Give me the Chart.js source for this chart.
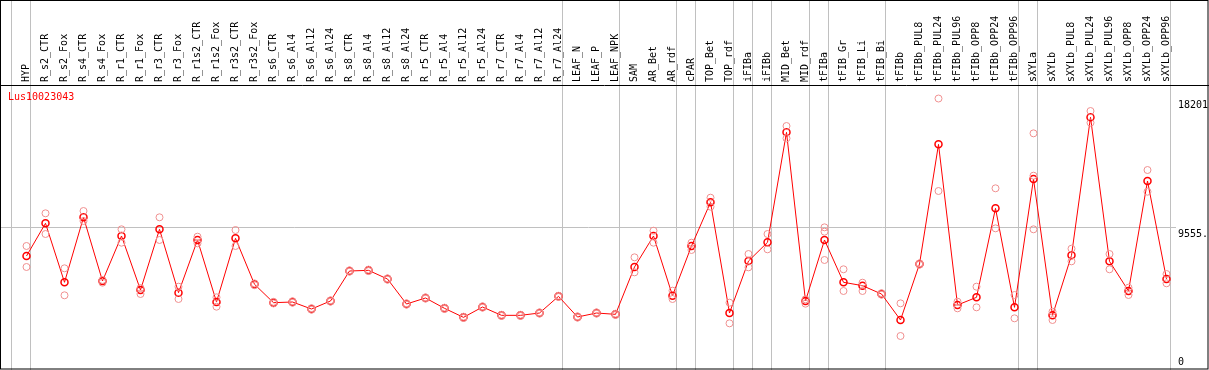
<!DOCTYPE html>
<html>
<head>
<meta charset="utf-8">
<title>Lus10023043</title>
<script src="https://cdn.jsdelivr.net/npm/chart.js@4/dist/chart.umd.min.js"></script>
<style>
  html, body { margin: 0; padding: 0; background: #fff; }
  #wrap { width: 1209px; height: 370px; }
</style>
</head>
<body>
<div id="wrap"><canvas id="myChart" width="1209" height="370"></canvas></div>
<script>
"use strict";

const title = "Lus10023043";

const categories = [
  "HYP", "R_s2_CTR", "R_s2_Fox", "R_s4_CTR", "R_s4_Fox", "R_r1_CTR", "R_r1_Fox",
  "R_r3_CTR", "R_r3_Fox", "R_r1s2_CTR", "R_r1s2_Fox", "R_r3s2_CTR", "R_r3s2_Fox",
  "R_s6_CTR", "R_s6_Al4", "R_s6_Al12", "R_s6_Al24", "R_s8_CTR", "R_s8_Al4",
  "R_s8_Al12", "R_s8_Al24", "R_r5_CTR", "R_r5_Al4", "R_r5_Al12", "R_r5_Al24",
  "R_r7_CTR", "R_r7_Al4", "R_r7_Al12", "R_r7_Al24", "LEAF_N", "LEAF_P", "LEAF_NPK",
  "SAM", "AR_Bet", "AR_rdf", "cPAR", "TOP_Bet", "TOP_rdf", "iFIBa", "iFIBb",
  "MID_Bet", "MID_rdf", "tFIBa", "tFIB_Gr", "tFIB_Li", "tFIB_Bi", "tFIBb",
  "tFIBb_PUL8", "tFIBb_PUL24", "tFIBb_PUL96", "tFIBb_OPP8", "tFIBb_OPP24",
  "tFIBb_OPP96", "sXYLa", "sXYLb", "sXYLb_PUL8", "sXYLb_PUL24", "sXYLb_PUL96",
  "sXYLb_OPP8", "sXYLb_OPP24", "sXYLb_OPP96"
];

// mean expression per sample
const meanValues = [
  7604, 9804, 5834, 10208, 5921, 8950, 5316, 9400, 5136, 8681, 4508, 8793, 5699,
  4463, 4508, 4037, 4576, 6594, 6639, 6056, 4374, 4778, 4082, 3476, 4172,
  3611, 3611, 3768, 4889, 3499, 3768, 3678,
  6864, 8950, 4934, 8277, 11215, 3768, 7267, 8524, 15925, 4576, 8681,
  5834, 5608, 5047, 3297, 7065, 15117, 4307, 4822, 10812, 4150,
  12785, 3611, 7649, 16934, 7245, 5249, 12650, 6056
];

// replicate values
const rep1 = [
  8277, 10477, 6776, 10632, 5989, 9400, 5450, 10208, 5540, 8905, 4822, 9353, 5760,
  4520, 4560, 4090, 4620, 6640, 6690, 6100, 4420, 4820, 4130, 3520, 4220,
  3650, 3650, 3810, 4930, 3540, 3810, 3720,
  7515, 9306, 5270, 8499, 11529, 4463, 7738, 9084, 16351, 4688, 9533,
  6710, 5809, 5100, 4419, 7110, 18201, 4530, 5540, 12159, 4979,
  15858, 3858, 8096, 17360, 7738, 5473, 13390, 6392
];
const rep2 = [
  6864, 9084, 4959, 9959, 5809, 8499, 5047, 8681, 4710, 8455, 4194, 8277, 5640,
  4410, 4460, 3990, 4530, 6550, 6590, 6010, 4330, 4740, 4040, 3430, 4130,
  3570, 3570, 3730, 4850, 3460, 3730, 3640,
  6505, 8499, 4710, 8008, 10924, 3073, 6841, 8053, 15521, 4396, 7335,
  5249, 5249, 5000, 2221, 7020, 11978, 4082, 4150, 9466, 3410,
  9400, 3297, 7245, 16575, 6710, 4979, 11931, 5767
];
const rep3 = categories.map(() => null);
rep3[42] = 9241;
rep3[53] = 13009;

// group separators sit just after these sample indexes
const groupEnds = [-1, 0, 28, 31, 34, 35, 37, 38, 39, 41, 42, 45, 52, 53, 60];

const maxValue = 18201;
const yMax = maxValue * 1.05;
const tickValues = [maxValue, yMax / 2, 0];
const tickLabels = ["18201", "9555.", "0"];

function toPoints(arr) {
  return arr.map((v, i) => ({ x: i, y: v }));
}

const FONT = "10px 'DejaVu Sans Mono', monospace";

const frame = {
  id: "frame",
  beforeDatasetsDraw(chart) {
    const c = chart.ctx;
    const xs = chart.scales.x;
    const ys = chart.scales.y;
    const W = chart.width, H = chart.height;
    const area = chart.chartArea;
    c.save();
    // separators
    c.strokeStyle = "#c0c0c0";
    c.lineWidth = 1;
    groupEnds.forEach((k) => {
      const px = Math.round(xs.getPixelForValue(k + 0.2)) + 0.5;
      c.beginPath();
      c.moveTo(px, 0);
      c.lineTo(px, H);
      c.stroke();
    });
    // mid gridline
    const gy = Math.round(ys.getPixelForValue(yMax / 2)) + 0.5;
    c.beginPath();
    c.moveTo(area.left, gy);
    c.lineTo(1176, gy);
    c.stroke();
    // borders
    c.strokeStyle = "#000";
    c.strokeRect(0.5, 0.5, W - 1.5, H - 1.5);
    c.beginPath();
    c.moveTo(0, area.top + 0.5);
    c.lineTo(W, area.top + 0.5);
    c.stroke();
    // rotated category labels
    c.font = FONT;
    c.fillStyle = "#000";
    c.textAlign = "left";
    c.textBaseline = "alphabetic";
    categories.forEach((name, i) => {
      const px = xs.getPixelForValue(i);
      c.save();
      c.translate(px + 2.5, area.top - 3);
      c.rotate(-Math.PI / 2);
      c.fillText(name, 0, 0);
      c.restore();
    });
    // value labels on the right
    tickValues.forEach((v, i) => {
      const py = ys.getPixelForValue(v);
      if (v === 0) {
        c.textBaseline = "bottom";
        c.fillText(tickLabels[i], 1178, py - 2);
      } else {
        c.textBaseline = "top";
        c.fillText(tickLabels[i], 1178, py + 2);
      }
    });
    // title
    c.fillStyle = "#ff0000";
    c.textBaseline = "middle";
    c.fillText(title, 8, 97);
    c.restore();
  }
};

const repStyle = {
  showLine: false,
  pointRadius: 3.5,
  pointBorderWidth: 1,
  pointBorderColor: "#f09090",
  pointBackgroundColor: "rgba(0,0,0,0)",
  pointHoverRadius: 3.5
};

const ctx = document.getElementById("myChart");
const myChart = new Chart(ctx, {
  type: "line",
  data: {
    datasets: [
      Object.assign({ label: "rep1", data: toPoints(rep1) }, repStyle),
      Object.assign({ label: "rep2", data: toPoints(rep2) }, repStyle),
      Object.assign({ label: "rep3", data: toPoints(rep3) }, repStyle),
      {
        label: title,
        data: toPoints(meanValues),
        borderColor: "#ff0000",
        borderWidth: 1,
        pointRadius: 3.5,
        pointBorderWidth: 1.5,
        pointBorderColor: "#ff0000",
        pointBackgroundColor: "rgba(0,0,0,0)",
        tension: 0
      }
    ]
  },
  options: {
    responsive: false,
    animation: false,
    clip: false,
    layout: { autoPadding: false, padding: { left: 1, right: 1, top: 85, bottom: 1 } },
    plugins: { legend: { display: false }, tooltip: { enabled: false } },
    scales: {
      x: {
        type: "linear",
        display: false,
        min: -25.5 / 19,
        max: -25.5 / 19 + 1207 / 19
      },
      y: {
        type: "linear",
        display: false,
        min: 0,
        max: yMax
      }
    }
  },
  plugins: [frame]
});
</script>
</body>
</html>
